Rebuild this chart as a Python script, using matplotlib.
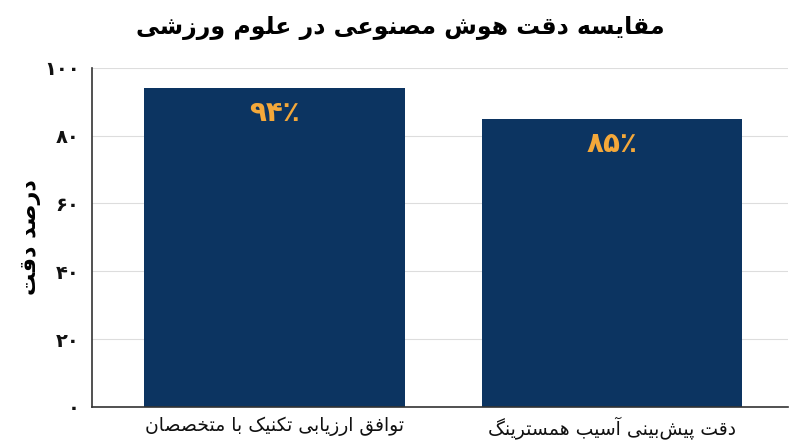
import matplotlib

matplotlib.use("Agg")
import matplotlib.pyplot as plt

# Persian text is shaped by hand: matplotlib has no complex text layout, so each
# letter is swapped for its presentation form and the string is reversed.
TITLE = "مقایسه دقت هوش مصنوعی در علوم ورزشی"
Y_LABEL = "درصد دقت"
categories = ["توافق ارزیابی تکنیک با متخصصان", "دقت پیش\u200cبینی آسیب همسترینگ"]
accuracy = [94, 85]
value_labels = ["۹۴٪", "۸۵٪"]
y_ticks = [0, 20, 40, 60, 80, 100]
y_tick_labels = ["۰", "۲۰", "۴۰", "۶۰", "۸۰", "۱۰۰"]

BAR_COLOR = "#0c3461"
LABEL_COLOR = "#f4a83a"

# letter -> (isolated, final, initial, medial); two forms means right-joining only
FORMS = {
    "ا": ("\uFE8D", "\uFE8E"),
    "آ": ("\uFE81", "\uFE82"),
    "د": ("\uFEA9", "\uFEAA"),
    "ر": ("\uFEAD", "\uFEAE"),
    "ز": ("\uFEAF", "\uFEB0"),
    "و": ("\uFEED", "\uFEEE"),
    "ب": ("\uFE8F", "\uFE90", "\uFE91", "\uFE92"),
    "پ": ("\uFB56", "\uFB57", "\uFB58", "\uFB59"),
    "ت": ("\uFE95", "\uFE96", "\uFE97", "\uFE98"),
    "خ": ("\uFEA5", "\uFEA6", "\uFEA7", "\uFEA8"),
    "س": ("\uFEB1", "\uFEB2", "\uFEB3", "\uFEB4"),
    "ش": ("\uFEB5", "\uFEB6", "\uFEB7", "\uFEB8"),
    "ص": ("\uFEB9", "\uFEBA", "\uFEBB", "\uFEBC"),
    "ع": ("\uFEC9", "\uFECA", "\uFECB", "\uFECC"),
    "ف": ("\uFED1", "\uFED2", "\uFED3", "\uFED4"),
    "ق": ("\uFED5", "\uFED6", "\uFED7", "\uFED8"),
    "ک": ("\uFB8E", "\uFB8F", "\uFB90", "\uFB91"),
    "گ": ("\uFB92", "\uFB93", "\uFB94", "\uFB95"),
    "ل": ("\uFEDD", "\uFEDE", "\uFEDF", "\uFEE0"),
    "م": ("\uFEE1", "\uFEE2", "\uFEE3", "\uFEE4"),
    "ن": ("\uFEE5", "\uFEE6", "\uFEE7", "\uFEE8"),
    "ه": ("\uFEE9", "\uFEEA", "\uFEEB", "\uFEEC"),
    "ی": ("\uFBFC", "\uFBFD", "\uFBFE", "\uFBFF"),
}


def fa(text):
    out = []
    for i, ch in enumerate(text):
        forms = FORMS.get(ch)
        if forms is None:
            if ch != "\u200c":
                out.append(ch)
            continue
        prev = text[i - 1] if i > 0 else ""
        nxt = text[i + 1] if i + 1 < len(text) else ""
        joins_prev = prev in FORMS and len(FORMS[prev]) == 4
        joins_next = len(forms) == 4 and nxt in FORMS
        if joins_prev and joins_next:
            out.append(forms[3])
        elif joins_prev:
            out.append(forms[1])
        elif joins_next:
            out.append(forms[2])
        else:
            out.append(forms[0])
    return "".join(reversed(out))


plt.rcParams["font.family"] = ["DejaVu Sans"]

fig, ax = plt.subplots(figsize=(8, 4.47), dpi=100)
fig.subplots_adjust(left=0.115, right=0.985, top=0.848, bottom=0.09)

positions = list(range(len(categories)))
ax.bar(positions, accuracy, width=0.77, color=BAR_COLOR, zorder=2)
for x, v, lab in zip(positions, accuracy, value_labels):
    ax.text(x, v - 3.2, lab, ha="center", va="top", color=LABEL_COLOR,
            fontsize=20, fontweight="bold", zorder=3)

ax.set_xlim(-0.54, 1.52)
ax.set_ylim(0, 100)
ax.set_xticks(positions)
ax.set_xticklabels([fa(c) for c in categories], fontsize=13.5, color="#111111")
ax.set_yticks(y_ticks)
ax.set_yticklabels(y_tick_labels, fontsize=14, fontweight="bold", color="#111111")
ax.tick_params(axis="x", length=0, pad=7)
ax.tick_params(axis="y", length=0, pad=9)
ax.set_ylabel(fa(Y_LABEL), fontsize=16, fontweight="bold", labelpad=2)
ax.grid(axis="y", color="#dddddd", linewidth=0.8, zorder=0)
ax.spines[["top", "right"]].set_visible(False)
for side in ("left", "bottom"):
    ax.spines[side].set_color("#333333")
    ax.spines[side].set_linewidth(1.2)

fig.suptitle(fa(TITLE), fontsize=17, fontweight="bold", y=0.965)

fig.savefig("out.png", dpi=100)
